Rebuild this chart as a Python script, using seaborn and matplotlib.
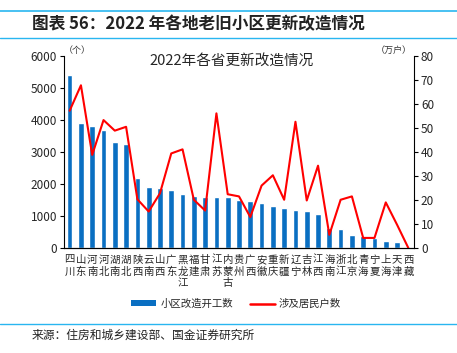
import numpy as np
import pandas as pd
import matplotlib
matplotlib.use("Agg")
import matplotlib.pyplot as plt
import seaborn as sns
from matplotlib.lines import Line2D
from matplotlib.patches import Patch

sns.set_style("white")
plt.rcParams['font.family'] = ['Noto Sans CJK SC', 'DejaVu Sans']

provinces = ["四川", "山东", "河南", "河北", "湖南", "湖北", "陕西", "云南", "山西", "广东",
             "黑龙江", "福建", "甘肃", "江苏", "内蒙古", "贵州", "广西", "安徽", "重庆", "新疆",
             "辽宁", "吉林", "江西", "海南", "浙江", "北京", "青海", "宁夏", "上海", "天津", "西藏"]
starts = [5400, 3900, 3820, 3700, 3300, 3250, 2200, 1920, 1880, 1800,
          1700, 1620, 1600, 1580, 1580, 1505, 1454, 1412, 1298, 1256,
          1194, 1142, 1070, 623, 602, 395, 363, 311, 208, 187, 10]
households = [57.2, 67.8, 38.8, 53.3, 48.9, 50.5, 20.3, 15.2, 22.8, 39.4,
              41.1, 20.1, 15.6, 56.1, 22.4, 21.5, 12.9, 26.0, 30.3, 20.1,
              52.6, 19.8, 34.3, 5.5, 20.1, 21.5, 4.2, 4.2, 19.0, 9.7, 0.0]

df = pd.DataFrame({"省份": provinces, "开工数": starts, "户数": households})

fig = plt.figure(figsize=(4.57, 3.53), dpi=100)
ax = fig.add_axes([64/457, 1 - 248/353, (414-64)/457, (248-56)/353])

sns.barplot(data=df, x="省份", y="开工数", color="#0a6fc2", width=0.5,
            saturation=1, ax=ax, order=provinces)
ax2 = ax.twinx()
sns.lineplot(x=np.arange(len(provinces)), y=df["户数"], color="#ff0000",
             linewidth=1.5, ax=ax2, sort=False)

ax.set_xlim(-0.5, len(provinces) - 0.5)
ax.set_ylim(0, 6000)
ax2.set_ylim(0, 80)
ax.set_yticks(range(0, 6001, 1000))
ax2.set_yticks(range(0, 81, 10))
ax.set_xlabel("")
ax.set_ylabel("")
ax2.set_ylabel("")

ax.set_xticks(np.arange(len(provinces)))
ax.set_xticklabels(["\n".join(p) for p in provinces], fontsize=7.5, linespacing=1.2, va="top")
ax.tick_params(axis="x", length=0, pad=5)
ax.set_xticks(np.arange(len(provinces) + 1) - 0.5, minor=True)
ax.tick_params(axis="x", which="minor", length=3, width=0.8, direction="out", color="black")
ax.tick_params(axis="y", labelsize=8.5, length=3, width=0.8, direction="out", color="black", pad=2)
ax2.tick_params(axis="y", labelsize=8.5, length=3, width=0.8, direction="out", color="black", pad=2)

for a in (ax, ax2):
    a.spines["top"].set_visible(False)
    a.spines["bottom"].set_color("black")
    a.spines["bottom"].set_linewidth(0.8)
ax.spines["right"].set_visible(False)
ax.spines["left"].set_color("black")
ax.spines["left"].set_linewidth(0.8)
ax2.spines["left"].set_visible(False)
ax2.spines["right"].set_color("black")
ax2.spines["right"].set_linewidth(0.8)

# inner title and units
fig.text(232/457, 1 - 61/353, "2022年各省更新改造情况", ha="center", va="center", fontsize=10.5)
fig.text(77/457, 1 - 51/353, "（个）", ha="center", va="center", fontsize=6.5, color="#333333")
fig.text(394/457, 1 - 50/353, "（万户）", ha="center", va="center", fontsize=6.5, color="#333333")

# legend
handles = [Patch(facecolor="#0a6fc2", edgecolor="none"),
           Line2D([0], [0], color="#ff0000", linewidth=1.8)]
fig.legend(handles, ["小区改造开工数", "涉及居民户数"], loc="center",
           bbox_to_anchor=(236/457, 1 - 304/353), ncol=2, frameon=False,
           fontsize=7.5, handlelength=2.4, handleheight=0.5, columnspacing=1.6, handletextpad=0.4)

# header band
line_color = "#29b6f0"
fig.add_artist(Line2D([0, 1], [1 - 11/353, 1 - 11/353], color=line_color, linewidth=1.2))
fig.add_artist(Line2D([0, 1], [1 - 38/353, 1 - 38/353], color=line_color, linewidth=1.0))
fig.text(32/457, 1 - 24/353, "图表 56：2022 年各地老旧小区更新改造情况", ha="left", va="center",
         fontsize=12, fontweight="bold", fontstyle="italic", color="#222222")

# footer
fig.add_artist(Line2D([0, 1], [1 - 324/353, 1 - 324/353], color=line_color, linewidth=1.0))
fig.text(32/457, 1 - 335/353, "来源：住房和城乡建设部、国金证券研究所", ha="left", va="center",
         fontsize=8.5, color="#222222")

fig.savefig("out.png", dpi=100)
